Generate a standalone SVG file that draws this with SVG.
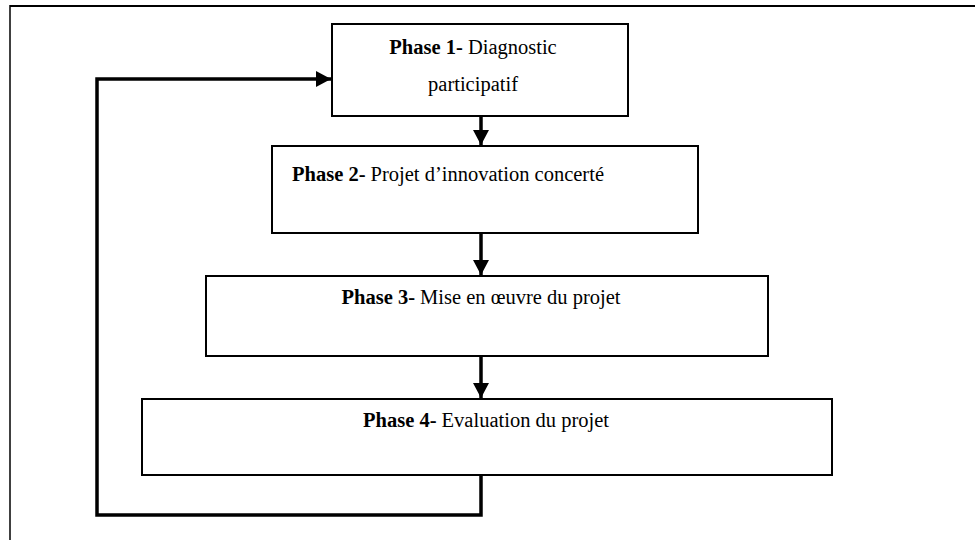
<svg xmlns="http://www.w3.org/2000/svg" width="975" height="540" viewBox="0 0 975 540">
<style>
.box{fill:#fff;stroke:#000;stroke-width:2}
.t{font-family:"Liberation Serif","Times New Roman",serif;font-size:20.5px;fill:#000}
.b{font-weight:bold}
.c{fill:none;stroke:#000;stroke-width:3.5}
.frame{fill:none;stroke:#000}
</style>
<defs>
<marker id="ah" markerUnits="userSpaceOnUse" markerWidth="17" markerHeight="17" refX="15" refY="8" orient="auto">
<path d="M0,0 L15,8 L0,16 Z" fill="#000"/>
</marker>
</defs>
<rect width="975" height="540" fill="#fff"/>
<g id="frame">
<line class="frame" x1="10" y1="6" x2="975" y2="6" stroke-width="2"/>
<line class="frame" x1="10" y1="5" x2="10" y2="540" stroke-width="1.5"/>
</g>
<g id="connectors">
<line class="c" x1="481" y1="117" x2="481" y2="145" marker-end="url(#ah)"/>
<line class="c" x1="481" y1="234" x2="481" y2="275" marker-end="url(#ah)"/>
<line class="c" x1="481" y1="357" x2="481" y2="398" marker-end="url(#ah)"/>
<polyline class="c" points="481,476 481,515 97,515 97,79 331,79" marker-end="url(#ah)"/>
</g>
<g id="phase1">
<rect class="box" x="332" y="24" width="296" height="92"/>
<text class="t" x="473" y="54" text-anchor="middle"><tspan class="b">Phase 1-</tspan> Diagnostic</text>
<text class="t" x="473" y="91" text-anchor="middle">participatif</text>
</g>
<g id="phase2">
<rect class="box" x="272" y="146" width="426" height="87"/>
<text class="t" x="292" y="181"><tspan class="b">Phase 2-</tspan> Projet d’innovation concerté</text>
</g>
<g id="phase3">
<rect class="box" x="206" y="276" width="562" height="80"/>
<text class="t" x="481" y="304" text-anchor="middle"><tspan class="b">Phase 3-</tspan> Mise en œuvre du projet</text>
</g>
<g id="phase4">
<rect class="box" x="142" y="399" width="690" height="76"/>
<text class="t" x="486" y="427" text-anchor="middle"><tspan class="b">Phase 4-</tspan> Evaluation du projet</text>
</g>
</svg>
